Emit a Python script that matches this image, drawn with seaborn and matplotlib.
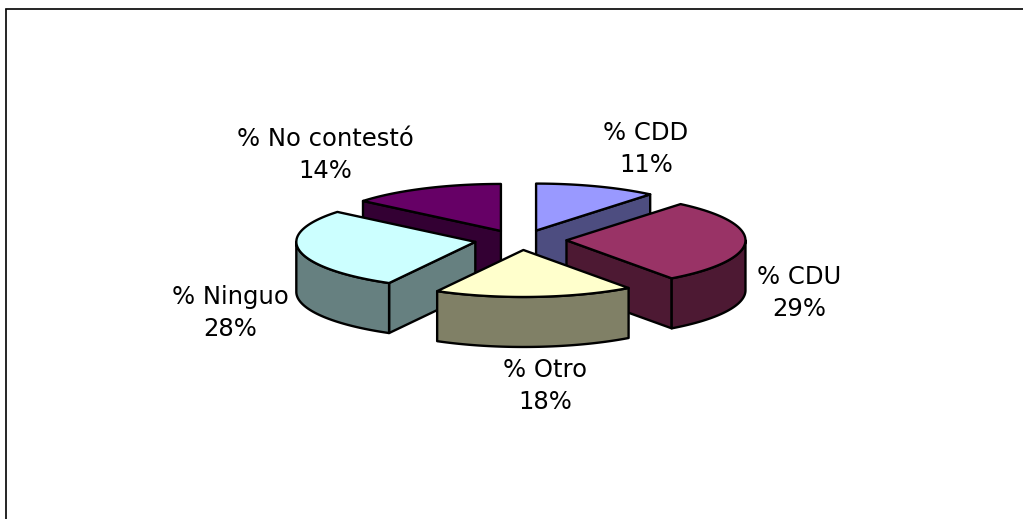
import numpy as np
import matplotlib
matplotlib.use("Agg")
import matplotlib.pyplot as plt
from matplotlib.patches import Polygon
import seaborn as sns

# slices run clockwise from 12 o'clock
names = ["% CDD", "% CDU", "% Otro", "% Ninguo", "% No contestó"]
values = [11, 29, 18, 28, 14]
top_colors = ["#9999FF", "#993366", "#FFFFCC", "#CCFFFF", "#660066"]
side_colors = ["#4D4D80", "#4D1933", "#808066", "#668080", "#330033"]

# label centres in pixels
label_xy = [(646, 149), (799, 293), (545, 386), (230, 313), (325, 155)]

W, H = 1023, 519
LEFT, TOP = 6.0, 9.5
CX, CY = 520.5, 240.0     # pie centre
RX, RY = 179.0, 47.0      # ellipse radii
EX, EY = 46.0, 10.0       # explode distance
DEPTH = 50.0


def rim(offset_x, offset_y, start, end, depth=0.0):
    theta = np.radians(np.linspace(start, end, 60))
    xs = offset_x + RX * np.sin(theta)
    ys = offset_y - RY * np.cos(theta) + depth
    return np.column_stack([xs, ys])


def draw_slice(ax, start, end, top_color, side_color):
    mid = np.radians((start + end) / 2)
    ox = CX + EX * np.sin(mid)
    oy = CY - EY * np.cos(mid)
    style = dict(edgecolor="black", linewidth=1.7, joinstyle="round")

    # radial walls, only the ones turned towards the viewer
    for angle, sign in ((start, -1), (end, 1)):
        if sign * np.sin(np.radians(angle)) > 1e-6:
            a = rim(ox, oy, angle, angle)[0]
            quad = [(ox, oy), a, (a[0], a[1] + DEPTH), (ox, oy + DEPTH)]
            ax.add_patch(Polygon(quad, closed=True, facecolor=side_color, **style))

    # outer wall, front half only
    lo, hi = max(start, 90), min(end, 270)
    if lo < hi:
        upper = rim(ox, oy, lo, hi)
        lower = rim(ox, oy, lo, hi, DEPTH)
        ax.add_patch(Polygon(np.vstack([upper, lower[::-1]]), closed=True,
                             facecolor=side_color, **style))

    # top face
    face = np.vstack([[(ox, oy)], rim(ox, oy, start, end)])
    ax.add_patch(Polygon(face, closed=True, facecolor=top_color, **style))


sns.set_theme(style="white")
plt.rcParams["font.family"] = ["DejaVu Sans"]

fig = plt.figure(figsize=(W / 100, H / 100), dpi=100, facecolor="white")
ax = fig.add_axes([LEFT / W, 0, 1 - LEFT / W, (H - TOP) / H])
ax.set_xlim(LEFT, W)
ax.set_ylim(H, TOP)
ax.set_xticks([])
ax.set_yticks([])
sns.despine(ax=ax, top=False, right=True, left=False, bottom=True)
for side in ("top", "left"):
    ax.spines[side].set_color("black")
    ax.spines[side].set_linewidth(1.2)

edges = np.cumsum([0] + values) / sum(values) * 360
slices = list(zip(edges[:-1], edges[1:], top_colors, side_colors))
# back slices first so the front ones cover them
slices.sort(key=lambda s: -np.cos(np.radians((s[0] + s[1]) / 2)))
for start, end, top_color, side_color in slices:
    draw_slice(ax, start, end, top_color, side_color)

for name, value, (x, y) in zip(names, values, label_xy):
    ax.text(x, y, f"{name}\n{value}%", ha="center", va="center",
            fontsize=17.5, color="black", linespacing=1.42)

fig.savefig("out.png", dpi=100)
